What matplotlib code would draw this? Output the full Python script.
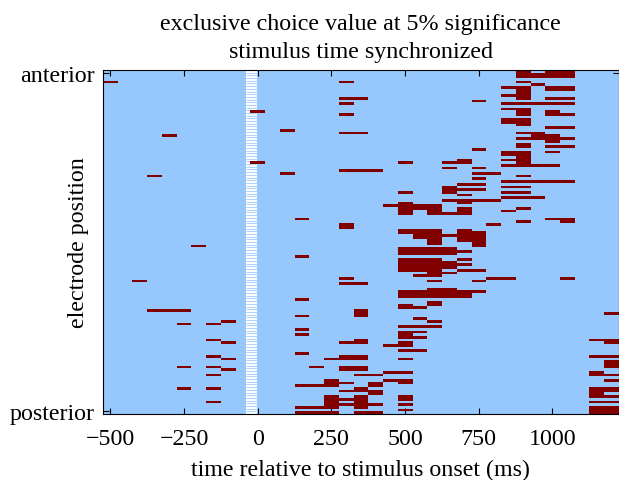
import numpy as np
import matplotlib
matplotlib.use("Agg")
import matplotlib.pyplot as plt
from matplotlib.colors import ListedColormap

plt.rcParams['font.family'] = ['Liberation Serif', 'DejaVu Serif']
plt.rcParams['font.size'] = 17.3

# 50 ms bins, centres from -500 to 1200 ms
bin_times = np.arange(-500, 1201, 50)
n_electrodes = 128

# electrode rows (0 = anterior) that are significant, one list per time bin
sig_rows = [
    [4],                                                    # -500
    [],                                                     # -450
    [78],                                                   # -400
    [39, 89],                                               # -350
    [24, 89],                                               # -300
    [89, 94, 110, 118],                                     # -250
    [65],                                                   # -200
    [94, 100, 106, 110, 113, 118, 123],                     # -150
    [93, 101, 107, 111],                                    # -100
    [],                                                     # -50
    [15, 34],                                               # 0
    [],                                                     # 50
    [22, 38],                                               # 100
    [55, 69, 85, 91, 96, 98, 105, 117, 125, 127],           # 150
    [110, 117, 125, 127],                                   # 200
    [107, 115, 116, 117, 121, 122, 123, 124, 125, 127],     # 250
    [4, 10, 12, 16, 23, 37, 57, 58, 77, 79, 101, 106, 107, 110, 111,
     116, 119, 122, 124],                                   # 300
    [10, 23, 37, 79, 89, 90, 91, 100, 101, 106, 107, 110, 111, 113,
     118, 119, 121, 122, 123, 124, 125, 127],               # 350
    [37, 113, 116, 117, 119, 120, 124, 127],                # 400
    [50, 102, 112, 115],                                    # 450
    [34, 45, 49, 50, 51, 52, 53, 59, 60, 66, 67, 68, 70, 71, 72, 73, 74,
     82, 83, 84, 87, 88, 95, 97, 98, 99, 101, 102, 104, 107, 112, 115,
     116, 121, 122, 124, 126],                              # 500
    [50, 51, 59, 60, 61, 62, 66, 67, 68, 70, 71, 72, 73, 74, 76, 82, 83,
     84, 88, 92, 95, 97, 99, 104],                          # 550
    [50, 51, 52, 53, 59, 60, 61, 62, 63, 64, 66, 67, 68, 70, 71, 72, 73,
     74, 75, 76, 78, 81, 82, 83, 84, 86, 87, 93, 95],       # 600
    [34, 36, 43, 44, 45, 48, 53, 61, 66, 67, 68, 71, 72, 73, 75, 81, 82,
     83, 84],                                               # 650
    [33, 34, 42, 44, 46, 48, 49, 51, 52, 53, 59, 60, 61, 62, 63, 67, 70,
     72, 74, 82, 83, 84],                                   # 700
    [11, 29, 36, 38, 40, 42, 44, 48, 60, 61, 62, 63, 64, 65, 74, 78, 82],  # 750
    [38, 48, 57, 77],                                       # 800
    [6, 9, 12, 14, 18, 19, 30, 31, 33, 35, 41, 43, 45, 47, 52, 77],  # 850
    [0, 1, 2, 4, 6, 7, 8, 9, 10, 12, 14, 15, 16, 18, 19, 20, 23, 25, 27,
     28, 30, 31, 32, 33, 34, 35, 39, 41, 43, 45, 47, 51, 56],  # 900
    [1, 2, 5, 12, 23, 24, 25, 35, 41, 47],                  # 950
    [0, 1, 2, 6, 7, 10, 12, 15, 16, 21, 24, 25, 26, 28, 30, 35, 41, 55],  # 1000
    [0, 1, 2, 6, 7, 10, 12, 16, 21, 25, 28, 41, 55, 56, 77],  # 1050
    [],                                                     # 1100
    [100, 106, 112, 113, 118, 119, 120, 121, 123, 125, 126, 127],  # 1150
    [90, 100, 101, 106, 108, 109, 110, 113, 115, 118, 119, 121, 123,
     125, 126, 127],                                        # 1200
]

# blanked-out column just before stimulus onset (ms)
blank_start, blank_end = -41, -4

xtick_vals = [-500, -250, 0, 250, 500, 750, 1000]
ytick_vals = [0.6, 126.4]
ytick_labels = ['anterior', 'posterior']

BLUE = '#96c8fe'
RED = '#800000'


def main():
    grid = np.zeros((n_electrodes, len(bin_times)))
    for c, rows in enumerate(sig_rows):
        for r in rows:
            grid[r, c] = 1

    half = (bin_times[1] - bin_times[0]) / 2.0
    ext = [bin_times[0] - half, bin_times[-1] + half, n_electrodes - 0.5, -0.5]

    fig = plt.figure(figsize=(6.19, 4.81), dpi=100)
    ax = fig.add_axes([103 / 619, 1 - 415 / 481, 515.7 / 619, 344 / 481])

    # background
    ax.imshow(grid * 0, cmap=ListedColormap([BLUE]), aspect='auto',
              interpolation='nearest', extent=ext, zorder=1)

    # white striped column
    ax.axvspan(blank_start, blank_end, color='white', lw=0, zorder=2)
    edges = np.arange(n_electrodes + 1) - 0.5
    ax.hlines(edges, blank_start, blank_end, color='#aed4fe', lw=0.75, zorder=3)

    # significant cells on top
    ax.imshow(np.ma.masked_where(grid == 0, grid), cmap=ListedColormap([RED]),
              aspect='auto', interpolation='nearest', extent=ext, zorder=4)

    ax.set_xlim(ext[0], ext[1])
    ax.set_ylim(n_electrodes - 0.5, -0.5)
    ax.set_xticks(xtick_vals)
    ax.set_xticklabels(['\u2212%d' % -v if v < 0 else '%d' % v for v in xtick_vals])
    ax.set_yticks(ytick_vals)
    ax.set_yticklabels(ytick_labels)
    ax.tick_params(direction='in', top=True, right=True, length=4, width=0.8)
    ax.tick_params(axis='x', pad=10)
    ax.tick_params(axis='y', pad=5.8)
    for sp in ax.spines.values():
        sp.set_zorder(6)

    ax.set_xlabel('time relative to stimulus onset (ms)', labelpad=7.5)
    ax.set_ylabel('electrode position')
    ax.yaxis.set_label_coords(-0.027, 0.5)
    ax.set_title('exclusive choice value at 5% significance\nstimulus time synchronized',
                 fontsize=17.3, linespacing=1.4, pad=9.5)

    fig.savefig('out.png', dpi=100)


if __name__ == "__main__":
    main()
